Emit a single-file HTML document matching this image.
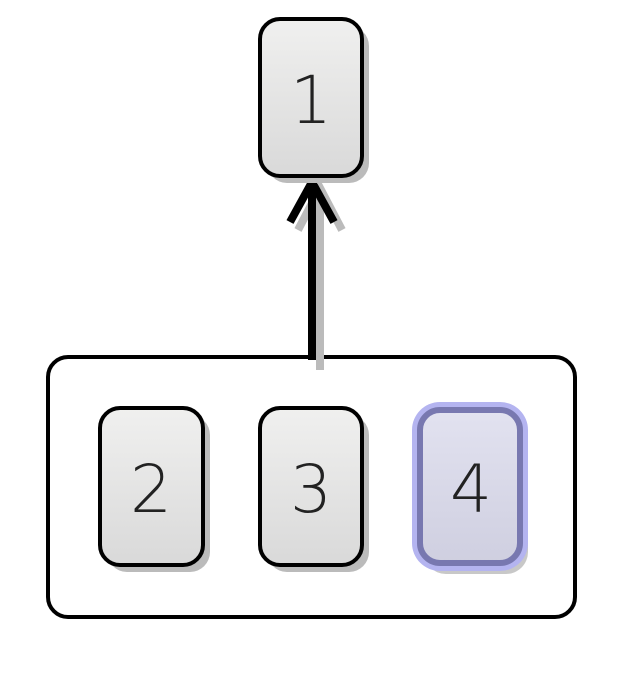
<!DOCTYPE html>
<html><head><meta charset="utf-8"><style>
body{margin:0;background:#fff;width:622px;height:668px;overflow:hidden}
text{font-family:"DejaVu Sans","Liberation Sans",sans-serif;font-weight:200;font-size:66px;fill:#222;text-anchor:middle}
</style></head><body>
<svg width="622" height="668" viewBox="0 0 622 668">
<defs>
<linearGradient id="g" x1="0" y1="0" x2="0" y2="1"><stop offset="0" stop-color="#f0f0ef"/><stop offset="1" stop-color="#d9d9d9"/></linearGradient>
<linearGradient id="gb" x1="0" y1="0" x2="0" y2="1"><stop offset="0" stop-color="#e2e2f0"/><stop offset="1" stop-color="#cfcfe0"/></linearGradient>
</defs>
<rect x="48" y="357" width="527" height="260" rx="20" fill="#fff" stroke="#000" stroke-width="4"/>
<g stroke="#bbb" stroke-width="8" fill="none">
<line x1="320" y1="370" x2="320" y2="188"/><polyline points="298,230 320,188 342,230"/>
</g>
<g stroke="#000" stroke-width="8" fill="none">
<line x1="312" y1="360" x2="312" y2="182"/><polyline points="290,222 312,182 334,222"/>
</g>
<g>
<rect x="267" y="26" width="102" height="157" rx="20" fill="#bbb"/>
<rect x="260" y="19" width="102" height="157" rx="20" fill="url(#g)" stroke="#000" stroke-width="4"/>
<text x="311" y="123">1</text></g>
<g>
<rect x="107" y="415" width="103" height="157" rx="20" fill="#bbb"/>
<rect x="100" y="408" width="103" height="157" rx="20" fill="url(#g)" stroke="#000" stroke-width="4"/>
<text x="151" y="512">2</text></g>
<g>
<rect x="267" y="415" width="102" height="157" rx="20" fill="#bbb"/>
<rect x="260" y="408" width="102" height="157" rx="20" fill="url(#g)" stroke="#000" stroke-width="4"/>
<text x="311" y="512">3</text></g>
<g>
<rect x="424" y="414" width="104" height="160" rx="22" fill="#c8c8c8"/>
<rect x="412" y="402" width="116" height="169" rx="28" fill="#b4b4f0"/>
<rect x="420" y="410" width="100" height="153" rx="20" fill="url(#gb)" stroke="#7878b0" stroke-width="6"/>
<text x="471" y="512">4</text></g>
</svg>
</body></html>
